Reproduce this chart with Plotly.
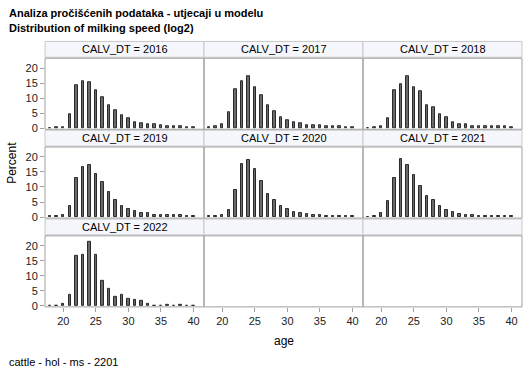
import plotly.graph_objects as go

# ---- data ----
ages = list(range(18, 41))
years = [2016, 2017, 2018, 2019, 2020, 2021, 2022]
pct_2016 = [0.1, 0.2, 0.4, 4.6, 14.3, 15.8, 15.4, 12.6, 10.2, 7.8, 6.0, 4.3, 3.3, 2.1, 1.6, 1.3, 1.2, 1.0, 0.8, 0.6, 0.5, 0.4, 0.3]
pct_2017 = [0.2, 0.5, 1.3, 5.2, 13.0, 15.8, 17.3, 13.6, 10.9, 7.6, 5.6, 3.6, 2.7, 2.1, 1.5, 1.1, 0.9, 0.9, 0.7, 0.5, 0.5, 0.4, 0.3]
pct_2018 = [0.1, 0.2, 0.6, 3.3, 12.5, 14.5, 17.3, 13.7, 12.4, 7.8, 6.9, 4.6, 3.5, 1.9, 1.3, 1.2, 0.8, 0.7, 0.7, 0.5, 0.5, 0.5, 0.4]
pct_2019 = [0.2, 0.3, 0.5, 3.5, 13.1, 16.6, 17.3, 14.4, 11.6, 8.2, 5.5, 3.6, 2.8, 2.0, 1.2, 1.2, 0.8, 0.7, 0.5, 0.5, 0.5, 0.4, 0.4]
pct_2020 = [0.2, 0.3, 0.7, 2.4, 9.1, 17.5, 19.0, 16.0, 11.9, 7.8, 5.6, 3.8, 2.5, 1.5, 1.2, 1.0, 0.7, 0.8, 0.4, 0.4, 0.3, 0.3, 0.3]
pct_2021 = [0.1, 0.2, 1.2, 5.4, 13.0, 19.2, 17.3, 14.0, 10.3, 6.9, 5.6, 3.5, 2.4, 1.5, 1.0, 0.5, 0.5, 0.4, 0.4, 0.3, 0.3, 0.3, 0.3]
pct_2022 = [0.1, 0.1, 0.8, 3.5, 16.7, 17.0, 21.2, 16.9, 8.2, 5.5, 3.1, 3.8, 2.4, 2.1, 1.5, 0.7, 0.1, 0.1, 0.2, 0.1, 0.4, 0.1, 0.1]
series = [pct_2016, pct_2017, pct_2018, pct_2019, pct_2020, pct_2021, pct_2022]
x_ticks = [20, 25, 30, 35, 40]
y_ticks = [0, 5, 10, 15, 20]

title1 = "Analiza pročišćenih podataka - utjecaji u modelu"
title2 = "Distribution of milking speed (log2)"
footer = "cattle - hol - ms - 2201"

# ---- layout geometry (pixels) ----
W, H = 529, 378
FONT = "Liberation Sans, Arial, sans-serif"
def px(x): return x / W
def py(y): return 1 - y / H

col_px = [(45, 204), (204, 363), (363, 522)]
row_px = [(59, 131), (149, 221), (239, 311)]
strip_px = [(42, 58), (132, 148), (222, 238)]

fig = go.Figure()
layout = dict(
    width=W, height=H, margin=dict(l=0, r=0, t=0, b=0),
    paper_bgcolor="white", plot_bgcolor="white", showlegend=False,
    font=dict(family=FONT, size=11, color="#000000"),
    bargap=0,
)
shapes = []
annotations = []

for i in range(9):
    r, c = divmod(i, 3)
    idx = i + 1
    xs = "" if idx == 1 else str(idx)
    x0, x1 = col_px[c]
    y0, y1 = row_px[r]
    layout["xaxis" + xs] = dict(
        domain=[px(x0), px(x1)], anchor="y" + xs, range=[17.2, 41.6],
        tickvals=x_ticks, showticklabels=(r == 2), ticks="outside" if r == 2 else "",
        ticklen=4, tickcolor="#a0a0a0", tickfont=dict(size=11, color="#222222"),
        showgrid=False, zeroline=False, showline=False, fixedrange=True,
    )
    layout["yaxis" + xs] = dict(
        domain=[py(y1), py(y0)], anchor="x" + xs, range=[-0.35, 23.3],
        tickvals=y_ticks, showticklabels=(c == 0), ticks="outside" if c == 0 else "",
        ticklen=4, tickcolor="#a0a0a0", tickfont=dict(size=11, color="#222222"),
        showgrid=False, zeroline=False, showline=False, fixedrange=True,
    )
    # panel border
    shapes.append(dict(type="rect", xref="paper", yref="paper",
                       x0=px(x0), x1=px(x1), y0=py(y1), y1=py(y0),
                       line=dict(color="#a0a0a0", width=1), fillcolor="rgba(0,0,0,0)", layer="above"))
    # strip
    s0, s1 = strip_px[r]
    shapes.append(dict(type="rect", xref="paper", yref="paper",
                       x0=px(x0), x1=px(x1), y0=py(s1), y1=py(s0),
                       line=dict(color="#c8c8c8", width=1), fillcolor="#f5f7fd", layer="below"))
    if i < len(years):
        fig.add_trace(go.Bar(
            x=ages, y=series[i], width=0.38,
            marker=dict(color="#6a6a6a", line=dict(color="#2a2a2a", width=1)),
            xaxis="x" + xs, yaxis="y" + xs,
        ))
        annotations.append(dict(text=f"CALV_DT = {years[i]}", xref="paper", yref="paper",
                                x=px((x0 + x1) / 2), y=py((s0 + s1) / 2),
                                xanchor="center", yanchor="middle", showarrow=False,
                                font=dict(size=11, color="#000000")))
    else:
        # empty panel: placeholder trace so its axes are drawn
        fig.add_trace(go.Scatter(x=[None], y=[None], mode="markers",
                                 xaxis="x" + xs, yaxis="y" + xs, hoverinfo="skip"))

annotations += [
    dict(text=f"<b>{title1}</b>", xref="paper", yref="paper", x=px(7), y=py(13),
         xanchor="left", yanchor="middle", showarrow=False, font=dict(size=11)),
    dict(text=f"<b>{title2}</b>", xref="paper", yref="paper", x=px(7), y=py(28),
         xanchor="left", yanchor="middle", showarrow=False, font=dict(size=11)),
    dict(text="Percent", xref="paper", yref="paper", x=px(12), y=py(165),
         xanchor="center", yanchor="middle", textangle=-90, showarrow=False, font=dict(size=12)),
    dict(text="age", xref="paper", yref="paper", x=px(283.5), y=py(346),
         xanchor="center", yanchor="middle", showarrow=False, font=dict(size=12)),
    dict(text=footer, xref="paper", yref="paper", x=px(7), y=py(367),
         xanchor="left", yanchor="middle", showarrow=False, font=dict(size=11)),
]

layout["shapes"] = shapes
layout["annotations"] = annotations
fig.update_layout(**layout)
fig.write_html("out.html", config={"displayModeBar": False},
               post_script="document.body.style.margin='0';")
